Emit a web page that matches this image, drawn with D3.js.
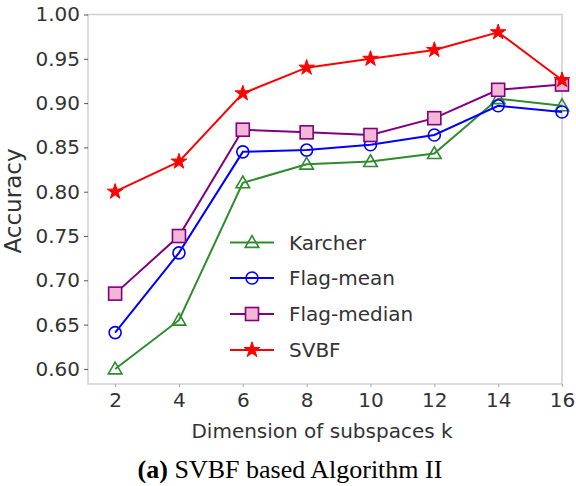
<!DOCTYPE html>
<html>
<head>
<meta charset="utf-8">
<script src="https://cdn.jsdelivr.net/npm/d3@7"></script>
<style>
  html, body { margin: 0; padding: 0; background: #fff; }
  svg { display: block; }
</style>
</head>
<body>
<svg id="chart" width="576" height="486"></svg>
<script>
// Subspace dimensions on the x axis
const dims = [2, 4, 6, 8, 10, 12, 14, 16];

// Accuracy of each averaging method per dimension
const karcher    = [0.600, 0.655, 0.810, 0.831, 0.834, 0.843, 0.905, 0.897];
const flagMean   = [0.641, 0.731, 0.845, 0.847, 0.853, 0.864, 0.897, 0.890];
const flagMedian = [0.685, 0.750, 0.870, 0.867, 0.864, 0.883, 0.915, 0.921];
const svbf       = [0.800, 0.834, 0.911, 0.940, 0.950, 0.960, 0.980, 0.926];

const yTicks = [0.60, 0.65, 0.70, 0.75, 0.80, 0.85, 0.90, 0.95, 1.00];
const xTicks = [2, 4, 6, 8, 10, 12, 14, 16];

const seriesNames = ["Karcher", "Flag-mean", "Flag-median", "SVBF"];

const series = [
  { name: seriesNames[0], values: karcher,    color: "#2e8b2e", marker: "triangle", fill: "none" },
  { name: seriesNames[1], values: flagMean,   color: "#0000ff", marker: "circle",   fill: "none" },
  { name: seriesNames[2], values: flagMedian, color: "#800080", marker: "square",   fill: "#f4b6d6" },
  { name: seriesNames[3], values: svbf,       color: "#ff0000", marker: "star",     fill: "#ff0000" }
];

const svg = d3.select("#chart");
const font = "'DejaVu Sans', sans-serif";
const textColor = "#333";

const plot = { left: 88, right: 562, top: 14.5, bottom: 384 };

const x = d3.scaleLinear().domain([1.15, 16]).range([plot.left, plot.right]);
const y = d3.scaleLinear().domain([0.583, 1.0]).range([plot.bottom, plot.top]);

// Axes box
svg.append("rect")
  .attr("x", plot.left).attr("y", plot.top)
  .attr("width", plot.right - plot.left).attr("height", plot.bottom - plot.top)
  .attr("fill", "none").attr("stroke", "#cfcfcf").attr("stroke-width", 1.5);

// Y axis
const yAxis = svg.append("g")
  .attr("transform", `translate(${plot.left},0)`)
  .call(d3.axisLeft(y).tickValues(yTicks).tickFormat(d3.format(".2f")).tickSize(4).tickPadding(4));
yAxis.select(".domain").remove();
yAxis.selectAll("line").attr("stroke", "#555");
yAxis.selectAll("text").attr("font-family", font).attr("font-size", 20).attr("fill", textColor);

// X axis
const xAxis = svg.append("g")
  .attr("transform", `translate(0,${plot.bottom})`)
  .call(d3.axisBottom(x).tickValues(xTicks).tickFormat(d3.format("d")).tickSize(3).tickPadding(6));
xAxis.select(".domain").remove();
xAxis.selectAll("line").attr("stroke", "#aaa");
xAxis.selectAll("text").attr("font-family", font).attr("font-size", 20).attr("fill", textColor);

// Axis titles
svg.append("text")
  .attr("transform", `translate(21,201) rotate(-90)`)
  .attr("text-anchor", "middle")
  .attr("font-family", font).attr("font-size", 23).attr("fill", textColor)
  .text("Accuracy");

svg.append("text")
  .attr("x", 322).attr("y", 438)
  .attr("text-anchor", "middle")
  .attr("font-family", font).attr("font-size", 20).attr("fill", textColor)
  .text("Dimension of subspaces k");

// Caption
const cap = svg.append("text")
  .attr("x", 290).attr("y", 478)
  .attr("text-anchor", "middle")
  .attr("font-family", "'Liberation Serif', 'Times New Roman', serif")
  .attr("font-size", 26).attr("fill", "#000");
cap.append("tspan").attr("font-weight", "bold").text("(a)");
cap.append("tspan").text(" SVBF based Algorithm II");

// Marker drawing
function drawMarker(g, s, cx, cy) {
  if (s.marker === "triangle") {
    g.append("path")
      .attr("d", d3.symbol().type(d3.symbolTriangle).size(80)())
      .attr("transform", `translate(${cx},${cy + 1})`)
      .attr("fill", "none").attr("stroke", s.color).attr("stroke-width", 1.6);
  } else if (s.marker === "circle") {
    g.append("circle").attr("cx", cx).attr("cy", cy).attr("r", 6)
      .attr("fill", "none").attr("stroke", s.color).attr("stroke-width", 1.6);
  } else if (s.marker === "square") {
    g.append("rect").attr("x", cx - 6.5).attr("y", cy - 6.5).attr("width", 13).attr("height", 13)
      .attr("fill", s.fill).attr("stroke", s.color).attr("stroke-width", 1.6);
  } else {
    g.append("path")
      .attr("d", d3.symbol().type(d3.symbolStar).size(75)())
      .attr("transform", `translate(${cx},${cy})`)
      .attr("fill", s.fill).attr("stroke", s.color).attr("stroke-width", 1);
  }
}

const line = d3.line().x((d, i) => x(dims[i])).y(d => y(d));

series.forEach(s => {
  const g = svg.append("g");
  g.append("path").datum(s.values)
    .attr("d", line).attr("fill", "none")
    .attr("stroke", s.color).attr("stroke-width", 2);
  s.values.forEach((v, i) => drawMarker(g, s, x(dims[i]), y(v)));
});

// Legend
const legend = svg.append("g");
const legendRows = [242.5, 278, 314, 350];
series.forEach((s, i) => {
  const ly = legendRows[i];
  const g = legend.append("g");
  g.append("line").attr("x1", 230).attr("x2", 274).attr("y1", ly).attr("y2", ly)
    .attr("stroke", s.color).attr("stroke-width", 2);
  drawMarker(g, s, 252, ly);
  g.append("text").attr("x", 289).attr("y", ly + 7)
    .attr("font-family", font).attr("font-size", 20).attr("fill", textColor)
    .text(s.name);
});
</script>
</body>
</html>
